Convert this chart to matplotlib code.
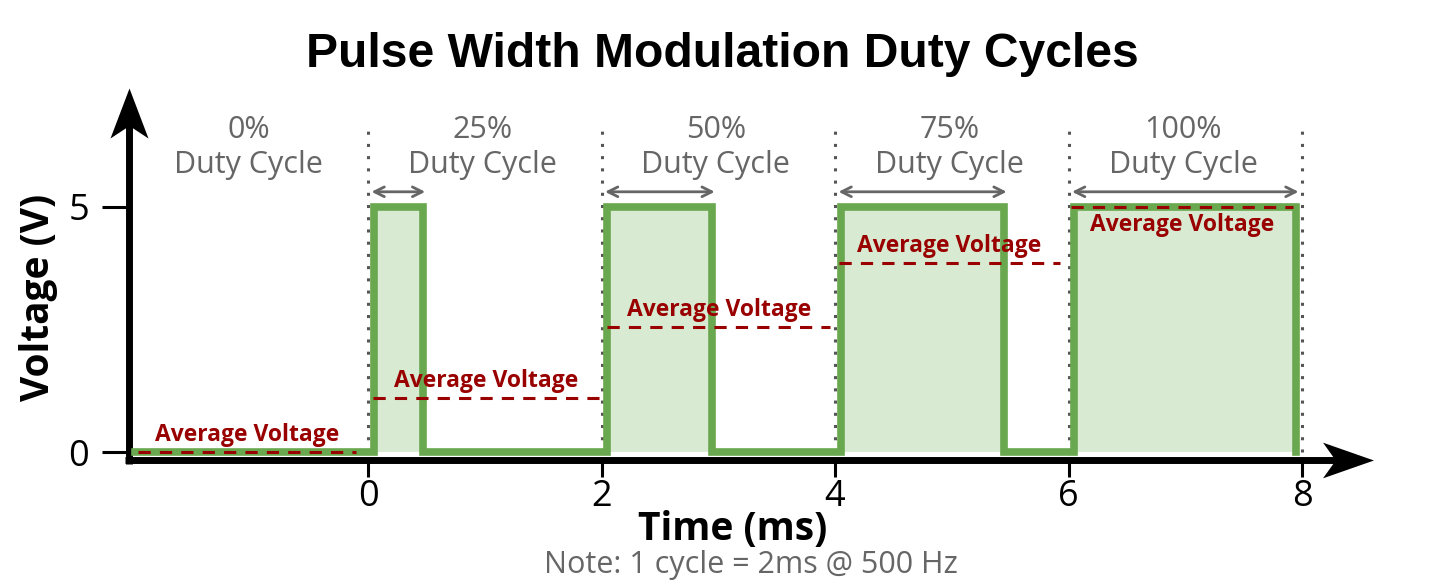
import matplotlib
matplotlib.use("Agg")
import matplotlib.pyplot as plt

# data
cycle_start = [-2, 0, 2, 4, 6]
duty_labels = ["0%", "25%", "50%", "75%", "100%"]
pulse_on = [None, 0.05, 2.05, 4.05, 6.05]
pulse_off = [None, 0.47, 2.95, 5.45, 7.95]
avg_voltage = [0.0, 1.1, 2.55, 3.85, 5.0]
avg_x0 = [-1.97, 0.04, 2.05, 4.03, 6.02]
avg_x1 = [-0.10, 1.98, 3.96, 5.93, 7.92]
v_high = 5
x_ticks = [0, 2, 4, 6, 8]
y_ticks = [0, 5]
boundaries = [0, 2, 4, 6, 8]

GREEN = "#6aa84f"
FILL = "#d9ead3"
RED = "#990000"
GRAY = "#666666"
SANS = ["Open Sans", "DejaVu Sans"]

plt.rcParams["font.family"] = SANS

fig = plt.figure(figsize=(14.3, 5.85), dpi=100)
ax = fig.add_axes([0, 0, 1, 1])
ax.set_xlim(-3.152, 9.096)
ax.set_ylim(-2.714, 9.224)
ax.patch.set_alpha(0)

# waveform
wx, wy = [cycle_start[0]], [0]
for on, off in zip(pulse_on, pulse_off):
    if on is None:
        continue
    wx += [on, on, off, off]
    wy += [0, v_high, v_high, 0]
ax.fill(wx, wy, color=FILL, lw=0, zorder=1)
ax.plot(wx, wy, color=GREEN, lw=5.5, solid_joinstyle="miter", zorder=3)

# cycle boundaries
for b in boundaries:
    ax.plot([b, b], [0, 6.74], color="#555555", lw=2.2,
            linestyle=(0, (1, 3)), zorder=2)

# duty labels, width arrows, average voltage
for i, s in enumerate(cycle_start):
    c = s + 1 - 0.02
    ax.text(c, 6.21, duty_labels[i] + "\nDuty Cycle", ha="center", va="center",
            fontsize=22, color=GRAY, linespacing=1.2)
    if pulse_on[i] is not None:
        ax.annotate("", xy=(pulse_off[i] + 0.02, 5.31),
                    xytext=(pulse_on[i] - 0.02, 5.31),
                    arrowprops=dict(arrowstyle="<->,head_length=0.7,head_width=0.35",
                                    color=GRAY, lw=2, shrinkA=0, shrinkB=0))
    v = avg_voltage[i]
    ax.plot([avg_x0[i], avg_x1[i]], [v, v], color=RED, lw=2.2,
            linestyle=(0, (4, 3)), zorder=4)
    xc = (avg_x0[i] + avg_x1[i]) / 2
    if v >= v_high:
        ax.text(xc, v - 0.12, "Average Voltage", ha="center", va="top",
                fontsize=16.5, fontweight="bold", color=RED, zorder=5)
    else:
        ax.text(xc, v + 0.1, "Average Voltage", ha="center", va="bottom",
                fontsize=16.5, fontweight="bold", color=RED, zorder=5)

# axes
x_axis_v = -0.163
y_axis_x = -2.05
for side in ["top", "right"]:
    ax.spines[side].set_visible(False)
ax.spines["left"].set_position(("data", y_axis_x))
ax.spines["bottom"].set_position(("data", x_axis_v))
ax.spines["left"].set_bounds(x_axis_v - 0.075, 6.8)
ax.spines["bottom"].set_bounds(y_axis_x - 0.03, 8.3)
for side in ["left", "bottom"]:
    ax.spines[side].set_linewidth(5)
    ax.spines[side].set_capstyle("butt")

ax.set_xticks(x_ticks)
ax.set_yticks(y_ticks)
ax.tick_params(axis="x", direction="out", length=12, width=2.2, pad=2, labelsize=26)
ax.tick_params(axis="y", direction="out", length=19.5, width=2.2, pad=9, labelsize=26)

# arrow heads
ax.plot(y_axis_x, 6.92, marker=[(0, 1), (0.76, -1), (0, -0.5), (-0.76, -1), (0, 1)],
        ms=36, color="black", mew=0, clip_on=False, zorder=6)
ax.plot(8.39, x_axis_v, marker=[(1, 0), (-1, 0.7), (-0.5, 0), (-1, -0.7), (1, 0)],
        ms=36.7, color="black", mew=0, clip_on=False, zorder=6)

# texts
fig.text(722 / 1430, 1 - 67 / 585, "Pulse Width Modulation Duty Cycles",
         ha="center", va="baseline", fontsize=34.6, fontweight="bold",
         family=["Liberation Sans", "DejaVu Sans"])
fig.text(733 / 1430, 1 - 540 / 585, "Time (ms)", ha="center", va="baseline",
         fontsize=28, fontweight="bold")
fig.text(751 / 1430, 1 - 573 / 585, "Note: 1 cycle = 2ms @ 500 Hz", ha="center",
         va="baseline", fontsize=22, color=GRAY)
fig.text(39 / 1430, 1 - 297 / 585, "Voltage (V)", ha="center", va="center",
         rotation=90, fontsize=28, fontweight="bold")

fig.savefig("out.png", dpi=100)
